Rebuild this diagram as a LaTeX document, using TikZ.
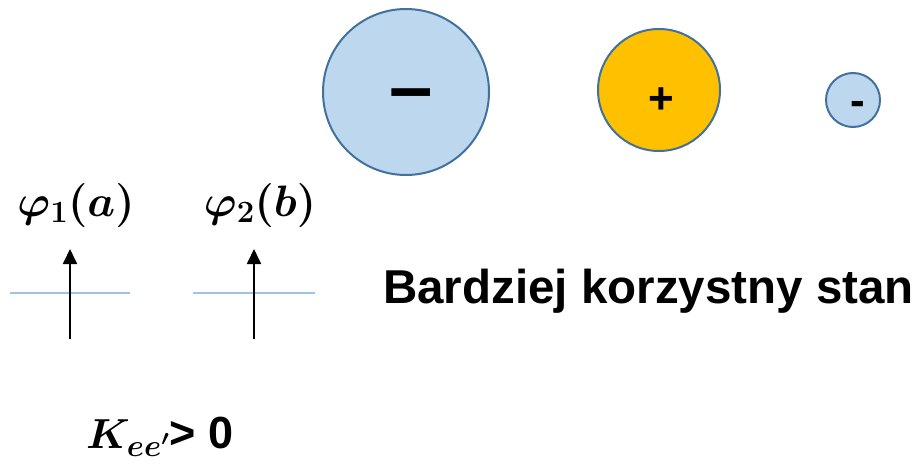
\RequirePackage{fix-cm}
\documentclass[tikz,border=0pt]{standalone}
\usepackage{fontspec}
\setmainfont{Liberation Sans}
\usepackage{bm}
\usetikzlibrary{arrows.meta}
\definecolor{ladunek}{HTML}{BDD7EE}
\definecolor{obrys}{HTML}{41719C}
\definecolor{zolty}{HTML}{FFC000}
\definecolor{poziom}{HTML}{9DC3E6}
\newcommand{\indeks}[1]{\mbox{\fontsize{31}{33}\selectfont$\bm{#1}$}}
\tikzset{
    kula/.style={draw=obrys, line width=2pt},
    spin/.style={line width=1.8pt, -{Triangle[length=15pt, width=14pt]}},
    poziomy/.style={draw=poziom, line width=1.2pt},
}

\begin{document}
\begin{tikzpicture}[x=1pt, y=-1pt]
    \useasboundingbox (0,0) rectangle (917,465);

    % ladunki
    \filldraw[kula, fill=ladunek] (406,92) circle (83);
    \node (minus) at (411,101) {\fontsize{78}{80}\selectfont\bfseries –};
    \filldraw[kula, fill=zolty] (659,90) circle (61);
    \node (plus) at (661,101) {\fontsize{44}{46}\selectfont\bfseries +};
    \filldraw[kula, fill=ladunek] (853,100) circle (27);
    \node (minusb) at (858,108) {\fontsize{44}{48}\selectfont\bfseries -};

    % orbitale
    \node (fia) at (76,205) {\fontsize{44}{48}\selectfont$\bm{\varphi}_{\indeks{1}}\bm{(a)}$};
    \node (fib) at (260,205) {\fontsize{44}{48}\selectfont$\bm{\varphi}_{\indeks{2}}\bm{(b)}$};

    \coordinate (La) at (10,293);
    \coordinate (Pa) at (130,293);
    \coordinate (Lb) at (193,293);
    \coordinate (Pb) at (315,293);
    \draw[poziomy] (La)--(Pa);
    \draw[poziomy] (Lb)--(Pb);

    \coordinate (Da) at (70,339);
    \coordinate (Ga) at (70,249);
    \coordinate (Db) at (254,339);
    \coordinate (Gb) at (254,249);
    \draw[spin] (Da)--(Ga);
    \draw[spin] (Db)--(Gb);

    \node[anchor=base west, inner sep=0pt] (stan) at (383,303)
        {\fontsize{47.5}{50}\selectfont\bfseries Bardziej korzystny stan};
    \node[anchor=base west, inner sep=0pt] (kee) at (86,448)
        {\fontsize{42}{46}\selectfont$\bm{K}_{\indeks{ee'}}$\fontsize{45}{48}\selectfont\bfseries> 0};
\end{tikzpicture}
\end{document}
